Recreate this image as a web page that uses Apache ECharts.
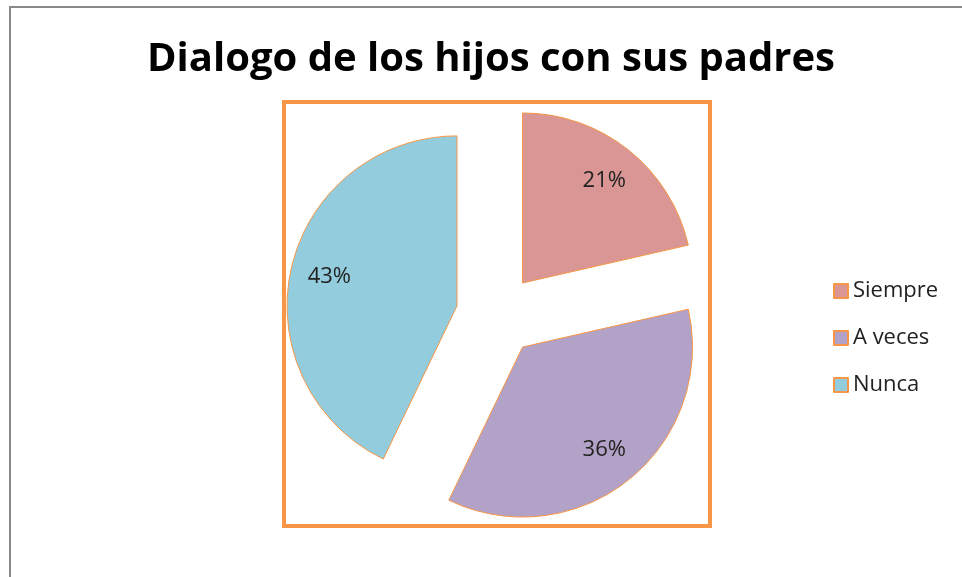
<!DOCTYPE html>
<html>
<head>
<meta charset="utf-8">
<script src="https://cdn.jsdelivr.net/npm/echarts@6/dist/echarts.min.js"></script>
<style>
  html, body { margin: 0; padding: 0; background: #fff; }
  #chart { width: 962px; height: 577px; }
</style>
</head>
<body>
<div id="chart"></div>
<script>
// datos del grafico
var categorias = ['Siempre', 'A veces', 'Nunca'];
var valores = [3, 5, 6];
var colores = ['#D99694', '#B3A2C7', '#93CDDD'];

var chart = echarts.init(document.getElementById('chart'));

var datos = [];
var etiquetas = [];
for (var i = 0; i < categorias.length; i++) {
     datos.push({
          name: categorias[i],
          value: valores[i],
          selected: true,
          itemStyle: { color: colores[i] }
     });
     etiquetas.push({
          name: categorias[i],
          value: valores[i],
          selected: true
     });
}

var option = {
     animation: false,
     title: {
          text: 'Dialogo de los hijos con sus padres',
          left: 142,
          top: 35,
          textStyle: {
               fontFamily: 'Open Sans',
               fontSize: 40,
               fontWeight: 'bold',
               color: '#000'
          }
     },
     legend: {
          orient: 'vertical',
          left: 828,
          top: 275,
          itemGap: 25,
          itemWidth: 14,
          itemHeight: 14,
          icon: 'rect',
          data: categorias,
          textStyle: {
               fontFamily: 'Open Sans',
               fontSize: 22,
               lineHeight: 22,
               color: '#222'
          }
     },
     graphic: [{
          type: 'rect', // borde exterior
          shape: { x: 10, y: 7, width: 980, height: 600 },
          style: { fill: null, stroke: '#888', lineWidth: 2 },
          silent: true
     }, {
          type: 'rect', // area del grafico
          shape: { x: 284, y: 102, width: 426, height: 424 },
          style: { fill: null, stroke: '#F79646', lineWidth: 4 },
          silent: true
     }],
     series: [{
          type: 'pie',
          center: [497, 315],
          radius: 170,
          startAngle: 90,
          clockwise: true,
          selectedMode: 'multiple',
          selectedOffset: 41,
          percentPrecision: 0,
          silent: true,
          label: { show: false },
          labelLine: { show: false },
          itemStyle: {
               borderColor: '#F79646',
               borderWidth: 1
          },
          emphasis: { disabled: true },
          data: datos
     }, {
          // serie invisible solo para colocar las etiquetas
          type: 'pie',
          center: [497, 315],
          radius: 256,
          startAngle: 90,
          clockwise: true,
          selectedMode: 'multiple',
          selectedOffset: 41,
          percentPrecision: 0,
          silent: true,
          legendHoverLink: false,
          itemStyle: { color: 'rgba(0,0,0,0)', borderWidth: 0 },
          label: {
               show: true,
               position: 'inside',
               formatter: '{d}%',
               fontFamily: 'Open Sans',
               fontSize: 22,
               color: '#222'
          },
          labelLine: { show: false },
          emphasis: { disabled: true },
          data: etiquetas,
          z: 3
     }]
};

chart.setOption(option);
</script>
</body>
</html>
